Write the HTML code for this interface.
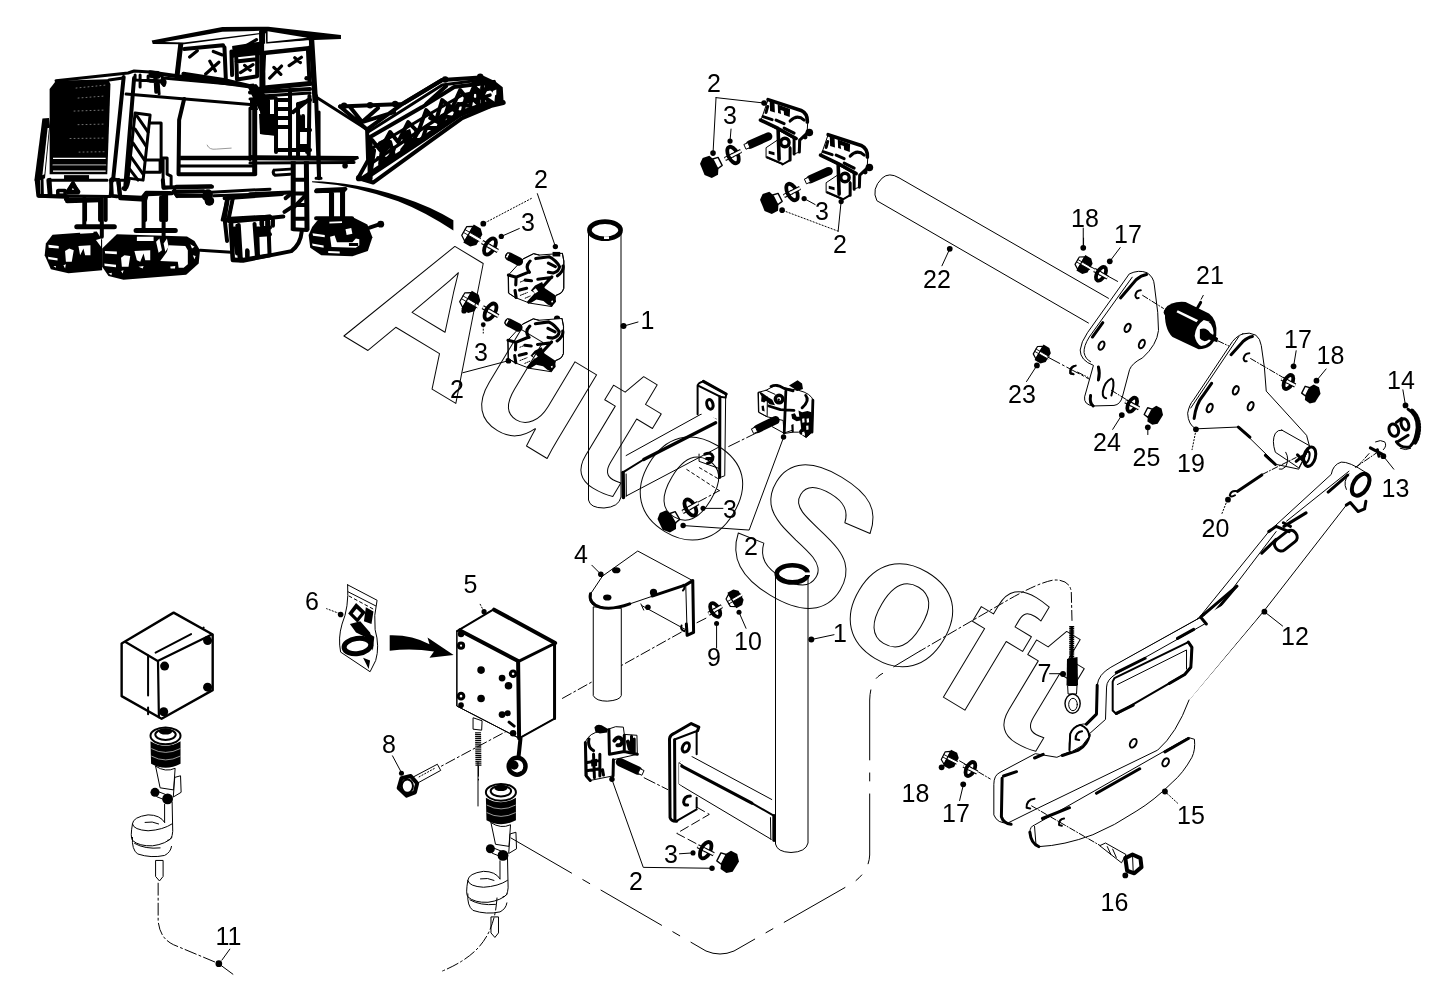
<!DOCTYPE html>
<html><head><meta charset="utf-8"><title>Parts diagram</title>
<style>
html,body{margin:0;padding:0;background:#fff;}
body{width:1437px;height:999px;overflow:hidden;}
svg{display:block;will-change:transform;}
.l{font-family:"Liberation Sans",Arial,sans-serif;font-size:25px;fill:#000;stroke:none;}
.wm{font-family:"Liberation Sans",Arial,sans-serif;font-weight:bold;font-size:193px;fill:none;stroke:#000;stroke-width:1;}
.t{fill:none;stroke:#000;stroke-width:1;}
svg *{vector-effect:non-scaling-stroke;}
.g{fill:none;stroke:#000;stroke-width:4;}
.m15{fill:none;stroke:#000;stroke-width:1.5;}
.wh{fill:#fff;stroke:#000;stroke-width:2;}
.wl{fill:none;stroke:#fff;stroke-width:1;}
.wf{fill:#fff;stroke:none;}
.m{fill:none;stroke:#000;stroke-width:2;}
.h{fill:none;stroke:#000;stroke-width:3;}
.k{fill:#000;stroke:none;}
.w{fill:#fff;stroke:#000;stroke-width:1;}
.d{fill:none;stroke:#000;stroke-width:1;stroke-dasharray:14 3 2 3;}
</style></head><body>
<svg width="1437" height="999" viewBox="0 0 1437 999" stroke-linecap="round" stroke-linejoin="round">
<rect width="1437" height="999" fill="#fff"/>
<!-- 01_defs.svg -->
<defs>
<!-- clamp type A (axis up-right). coords in 5x zoom units, anchor (470,360) -->
<g id="clampA"><g transform="translate(-470,-360)">
<path class="w" d="M380,440 L380,488 L462,522 L500,500 L500,430 L440,400 Z"/>
<path class="w" d="M355,300 L390,198 L560,255 Q590,270 588,310 L585,365 L545,400 L545,460 L520,470 L520,395 L440,350 Z"/>
<path d="M390,198 L555,252 Q588,268 586,310 M352,300 L440,342 L530,392 M440,342 L445,495" style="fill:none;stroke:#000;stroke-width:3.6"/>
<path class="k" d="M398,205 L422,213 L424,262 L400,255 Z M438,222 L500,245 L498,285 L470,275 L468,255 L452,250 L455,270 L440,265 Z"/>
<path class="h" d="M365,283 L410,298 M430,300 L470,318 M388,232 L380,262"/>
<path class="h" d="M500,305 Q535,268 570,300 M520,395 L520,470 M548,400 L546,460 M585,365 L548,400 M500,440 L500,500 M470,340 L520,365"/>
<circle cx="474" cy="412" r="21" style="fill:#fff;stroke:#000;stroke-width:3.4"/>
<path class="k" d="M393,453 L422,461 L422,476 L393,468 Z"/>
<path class="m" d="M385,485 L460,518 M500,500 L462,522"/>
<circle class="k" cx="596" cy="362" r="19"/>
<circle class="k" cx="575" cy="385" r="12"/>
</g></g>
<!-- bolt head A, anchor (115,525) -->
<g id="boltA"><g transform="translate(-115,-525)">
<path class="k" d="M78,495 L100,478 L140,486 L150,500 L160,555 L135,590 L95,580 L68,545 Z"/>
<path class="w" d="M145,492 L175,480 L185,520 L158,540 Z"/>
<path class="t" d="M160,487 L168,530"/>
</g></g>
<!-- lock washer A, anchor (215,475) -->
<g id="washA"><g transform="translate(-215,-475)">
<path class="h" d="M232,430 Q190,405 172,455 Q165,500 200,522 Q248,540 255,480 L238,475 Q232,512 208,505 Q188,490 195,455 Q205,430 225,448 Z" fill="#fff"/>
<path class="t" d="M200,425 Q180,440 178,470"/>
</g></g>
<!-- stud A, anchor (345,402) -->
<g id="studA"><g transform="translate(-345,-402)">
<path d="M300,425 L392,383" style="fill:none;stroke:#000;stroke-width:7.5" stroke-linecap="butt"/>
<path class="w" d="M278,418 L298,408 L306,432 L287,442 Z"/>
<ellipse cx="394" cy="382" rx="9" ry="19" class="k" transform="rotate(-25 394 382)"/>
</g></g>
</defs>

<!-- 10_machine_a.svg -->
<g transform="translate(30,20) scale(0.20017)">
<!-- grille -->
<polygon class="k" points="98,345 130,303 390,296 402,320 386,770 98,770"/>
<polygon class="wf" points="115,688 378,688 378,694 115,694"/>
<polygon class="wf" points="115,752 378,752 378,758 115,758"/>
<path class="wl" stroke-dasharray="1 3" opacity="0.45" d="M230,340 L380,325 M240,390 L370,380 M220,455 L370,450 M240,523 L370,520 M200,592 L370,590 M245,660 L370,658" style="stroke-width:1"/>
<path d="M115,724 L378,724" style="stroke:#999;stroke-width:1.2;fill:none"/>
<!-- left bumper -->
<polygon class="k" points="62,492 95,490 100,530 75,790 30,808 22,800"/>
<polygon class="wf" points="88,540 95,540 72,770 62,775"/>
<!-- bottom frame -->
<path class="h" d="M42,795 L45,880 L105,878 L100,795 M105,878 L400,882 L410,795 M60,795 L62,878 M100,800 L385,800"/>
<polygon class="k" points="170,775 295,775 295,800 170,800"/>
<path class="h" d="M140,850 L175,850 L175,875 L140,875 Z"/>
<path class="g" d="M190,862 L215,815 L240,862 Z" fill="#fff"/>
<path class="g" d="M185,880 L185,905 L350,900"/>
<!-- hood top & body -->
<path class="h" d="M130,303 L490,265 L520,255 L640,262 L665,290 L1110,330"/>
<path class="h" d="M480,370 L1100,422"/>
<path class="g" d="M468,285 L415,800 M410,795 L440,800 L450,880"/>
<path class="h" d="M395,300 L465,290"/>
<path class="g" d="M520,290 L475,845"/>
<path class="h" d="M525,275 L525,300 L640,305 L645,370 M550,275 L550,335 M590,280 L590,305 M625,285 L625,305"/>
<circle class="k" cx="665" cy="312" r="14"/>
<!-- hatched panel -->
<path class="h" d="M525,465 L600,475 L565,800 L490,790 Z"/>
<path class="h" d="M535,480 L590,560 M525,545 L580,630 M515,615 L572,700 M505,685 L565,770 M498,745 L540,800"/>
<path class="h" d="M600,515 L655,515 L655,700 L575,700 M570,760 L650,760 L650,700 M655,690 L685,690 L685,770 L705,780 L705,835 L665,840 L665,700"/>
<path class="h" d="M450,880 L560,885 L580,860 L700,862 M440,800 L480,800"/>
<!-- door panel -->
<path class="g" d="M770,395 L745,500 L742,770 L1120,770 L1120,440"/>
<path d="M750,690 L1120,690" style="stroke:#000;stroke-width:4.5;fill:none" stroke-linecap="butt"/>
<path class="h" d="M750,730 L1120,730"/>
<path d="M885,625 Q895,650 930,645 L1005,640" style="stroke:#999;stroke-width:1;fill:none"/>
<!-- lower rail -->
<path class="h" d="M720,850 L730,830 L905,828 M735,880 L880,878 M715,855 L735,882"/>
<circle class="k" cx="885" cy="880" r="26"/>
<circle class="k" cx="895" cy="905" r="22"/>
<path class="h" d="M905,860 L1199,845"/>
<!-- legs -->
<path class="g" d="M275,900 L275,999 M350,900 L350,999 M378,890 L378,999 M575,885 L575,999 M655,885 L655,999 M680,870 L680,999"/>
<path class="h" d="M985,890 L960,999 M1015,885 L990,999 M1000,990 L1199,980"/>
<path class="k" d="M1085,330 L1130,320 L1199,400 L1199,480 L1160,480 Z"/>
<polygon class="k" points="1150,430 1199,430 1199,575 1150,570"/>
<path class="g" d="M1125,440 L1125,770"/>
</g>

<!-- 11_machine_b.svg -->
<g transform="translate(250,20) scale(0.20017)">
<path class="g" d="M0,362 L300,345"/>
<path class="h" d="M0,395 L130,390 M60,380 L300,365"/>
<!-- ladder -->
<path class="g" d="M130,395 L130,660 M200,350 L200,690 M240,420 L240,690 M297,380 L293,690 M330,380 L345,790"/>
<path class="g" d="M130,400 L200,400 M130,445 L200,445 M130,490 L200,490 M130,535 L200,535 M130,650 L300,650"/>
<polygon class="k" points="45,470 130,470 130,580 50,570"/>
<polygon class="k" points="0,400 30,400 40,450 0,450"/>
<path class="g" d="M240,420 L300,400 M215,460 L290,400 M245,480 L245,550 L300,550 M265,480 L265,540 M250,630 L285,630 L285,660"/>
<path class="h" d="M345,460 L345,790 M330,790 L355,790 M0,440 L0,700"/>
<!-- platform -->
<polygon class="k" points="0,675 540,680 545,692 520,705 0,700"/>
<path class="h" d="M0,715 L520,712 M120,750 L200,745 M120,750 Q110,765 125,775 L200,770 M0,770 L25,770 L25,715"/>
<circle class="k" cx="475" cy="728" r="14"/>
<!-- lower -->
<path class="g" d="M0,870 L200,862 M330,855 L470,850 M410,855 L410,999 M465,855 L465,999 M330,990 L510,990"/>
<!-- strut -->
<path class="h" d="M330,385 L585,547"/>
<!-- conveyor -->
<path class="g" d="M450,432 L760,420 L960,300 L1150,287 L1199,312"/>
<path class="g" d="M585,547 L590,700 L540,790 L615,812 L900,605 L1060,490 L1199,432"/>
<path d="M600,585 L860,435 L1020,335 L1199,312" style="fill:none;stroke:#000;stroke-width:4"/>
<path d="M610,640 L880,480 L1060,375 L1199,345" style="fill:none;stroke:#000;stroke-width:3"/>
<path d="M570,790 L880,585 L1050,468 L1199,415" style="fill:none;stroke:#000;stroke-width:6"/>
<path class="g" d="M450,432 L585,547 M500,435 L560,510 L720,460 M585,547 L760,420 M560,510 L640,440"/>
<path class="g" d="M620,650 L600,780 M660,640 L650,720 L700,690 M700,610 L720,680 M760,580 L800,630 L850,540 M830,560 L820,610 M900,490 L960,520 L990,430 M1000,440 L1060,470 L1080,380 M1100,380 L1140,420 L1140,350 M1160,340 L1165,420 M770,415 L960,300 M880,420 L980,330"/>
<path class="g" d="M610,600 L650,650 L700,560 L740,610 L790,510 L840,560 L880,450 L930,500 L960,400 L1010,440 L1050,350 L1090,400 L1120,330 L1160,380 L1190,320"/>
<path class="g" d="M640,690 L700,700 L720,640 M760,650 L800,600 L860,600 L880,540 L940,540 L960,480 L1020,490 L1040,420 L1100,430 L1110,370"/>
<path d="M590,560 L780,440 L960,325 L1150,300" style="fill:none;stroke:#000;stroke-width:3"/>
<path d="M600,720 L880,530 L1050,420 L1199,375" style="fill:none;stroke:#000;stroke-width:3.5"/>
<path class="k" d="M640,610 L700,580 L700,640 L660,680 Z M755,560 L800,545 L815,600 L770,620 Z"/>
<ellipse cx="685" cy="660" rx="22" ry="35" class="g" transform="rotate(20 685 660)"/>
<path d="M600,600 L600,790" style="fill:none;stroke:#000;stroke-width:5"/>
<circle class="k" cx="470" cy="428" r="16"/><circle class="k" cx="600" cy="426" r="16"/><circle class="k" cx="725" cy="420" r="16"/><circle class="k" cx="975" cy="297" r="16"/><circle class="k" cx="1150" cy="283" r="16"/>
<circle class="k" cx="545" cy="790" r="16"/>
<!-- swoosh -->
<path class="k" d="M310,806 Q520,808 760,885 Q900,930 1016,1000 L1016,1052 Q880,960 740,905 Q520,825 310,810 Z"/>
</g>

<!-- 12_machine_c.svg -->
<g transform="translate(30,180) scale(0.16701)">
<!-- legs & plates -->
<path class="g" d="M325,110 L325,270 M430,110 L430,340 M680,100 L680,295 M800,95 L800,400"/>
<path d="M215,115 L415,115 M700,85 L850,80" style="fill:none;stroke:#000;stroke-width:4"/>
<path d="M280,280 L505,280 M635,302 L870,302" style="fill:none;stroke:#000;stroke-width:5"/>
<!-- track 1 -->
<path class="k" d="M135,328 L400,308 L432,360 L432,540 L230,558 L125,535 L88,450 L95,380 Z"/>
<path class="wf" d="M110,388 L172,395 L172,410 L112,405 Z M108,460 L165,468 L165,482 L110,475 Z M210,425 L235,410 L262,420 L250,490 L215,490 Z M290,395 L362,390 L362,450 L330,450 L320,410 L300,450 Z M200,510 L215,505 L210,530 Z M395,360 L425,350 L425,400 Z M140,515 L155,515 L155,525 Z"/>
<!-- track 2 -->
<path class="k" d="M520,325 L940,338 L985,365 L1018,420 L1010,500 L935,568 L560,598 L470,575 L432,520 L432,410 Z"/>
<path class="wf" d="M830,390 L930,395 L945,420 L945,505 L920,525 L890,525 L885,490 L780,485 L820,430 Z"/>
<path class="wf" d="M960,385 L985,400 L970,410 Z M975,450 L992,455 L985,475 Z M840,518 L870,515 L868,530 L842,530 Z"/>
<path class="wf" d="M448,425 L520,428 L520,445 L450,440 Z M445,500 L515,508 L515,522 L447,515 Z M545,465 L565,450 L600,455 L590,520 L550,520 Z M625,425 L720,420 L720,480 L690,480 L680,440 L660,490 L640,480 Z M640,340 L740,340 L740,365 L640,365 Z M755,370 L775,350 L790,420 L770,435 Z M800,380 L820,350 L830,400 L810,430 Z M545,545 L560,540 L555,560 Z M650,520 L680,515 L675,530 Z M470,560 L490,555 L488,570 Z M300,310 L380,305 L380,318 L300,322 Z"/>
<!-- frame bottom / rail -->
<path class="g" d="M40,0 L50,95 L215,100 M110,0 L118,90 M485,0 L490,95 L520,98 M530,0 L540,110 L690,118 L700,85 M560,50 Q580,60 590,0"/>
<path class="h" d="M165,65 L210,65 L210,90 L165,90 Z"/>
<path class="g" d="M225,70 L255,25 L290,70 Z" fill="#fff"/>
<path class="g" d="M795,0 L800,45 L1090,40 M870,70 L880,95 L1050,95 M870,70 L1040,68"/>
<circle class="k" cx="1065" cy="85" r="30"/><circle class="k" cx="1075" cy="125" r="28"/>
<path class="h" d="M1100,95 L1437,82 M1020,420 L1205,432"/>
<!-- rear box -->
<path class="g" d="M1185,110 L1165,230 L1180,365 M1215,105 L1190,230 M1200,240 L1437,218 M1205,250 L1215,475 L1260,480 L1437,450 M1250,270 L1262,470 M1225,290 L1240,440 M1300,420 L1300,460 M1360,290 L1365,450 M1360,290 L1437,285 M1370,330 L1437,325 M1390,235 L1390,280 M1420,232 L1420,280"/>
</g>

<!-- 13_machine_d.svg -->
<g transform="translate(220,60) scale(0.23024)">
<!-- conveyor end -->
<path class="k" d="M1130,62 L1195,92 L1228,118 L1232,185 L1190,200 L1195,150 L1130,95 Z"/>
<path class="wf" d="M1185,135 L1200,128 L1200,150 L1188,158 Z"/>
<path d="M1100,215 L1230,185" style="fill:none;stroke:#000;stroke-width:5"/>
<path class="g" d="M1100,100 L1190,95 M1140,110 L1140,200 M1100,130 L1190,190"/>
<!-- rear box -->
<path class="g" d="M20,600 L270,582 M32,600 L18,690 L45,702 L55,870 L100,872 L310,830 Q350,800 355,745 M50,702 L275,680 M75,720 L85,860 M150,712 L160,850 M210,700 L215,840 M160,745 L205,742 M120,830 L120,860 M180,690 L180,715 M230,690 L230,720"/>
<path class="g" d="M285,600 L310,580 M280,660 L310,640"/>
<!-- ladder low -->
<path d="M318,440 L318,740 M375,440 L378,740" style="fill:none;stroke:#000;stroke-width:5" stroke-linecap="butt"/>
<path class="g" d="M318,520 L375,520 M318,580 L375,580 M318,630 L375,630 M318,690 L375,690 M318,735 L378,738 M320,640 L375,585"/>
<!-- right leg -->
<path d="M420,566 L545,560" style="fill:none;stroke:#000;stroke-width:4"/>
<path class="g" d="M482,570 L482,690 M530,565 L530,690"/>
<!-- right track -->
<path class="k" d="M430,688 L575,682 L640,715 L662,770 L642,830 L575,852 L440,848 L392,815 L385,760 L400,725 Z"/>
<path class="wf" d="M402,752 L455,760 L455,770 L404,763 Z M400,797 L450,806 L450,815 L402,807 Z M478,768 L498,762 L508,792 L575,792 L590,775 L605,778 L605,805 L590,815 L484,812 Z M545,735 L570,730 L575,755 L550,760 Z M475,702 L530,700 L530,708 L475,710 Z M470,830 L520,832 L520,840 L470,838 Z"/>
<path class="k" d="M515,765 L545,765 L545,785 L515,785 Z M560,795 L600,795 L600,808 L560,808 Z"/>
<path d="M650,728 L698,712" style="fill:none;stroke:#000;stroke-width:4"/>
<circle class="k" cx="698" cy="713" r="15"/>
</g>

<!-- 14_canopy.svg -->
<g transform="translate(150,25) scale(0.13918)">
<!-- roof -->
<path class="k" d="M12,112 L520,14 L850,12 L1372,72 L1372,100 L1185,108 L835,138 L832,60 L245,138 L20,136 Z"/>
<path class="wf" d="M105,122 L520,48 L790,42 L790,58 L245,126 Z M845,45 L1130,92 L845,122 Z"/>
<!-- posts -->
<path d="M222,130 L195,360" style="fill:none;stroke:#000;stroke-width:5" stroke-linecap="butt"/>
<path d="M805,40 L808,440" style="fill:none;stroke:#000;stroke-width:6" stroke-linecap="butt"/>
<path d="M1160,100 L1188,560" style="fill:none;stroke:#000;stroke-width:5.5" stroke-linecap="butt"/>
<!-- window frames -->
<path class="g" d="M245,172 L525,145 M240,350 L530,395 L720,440 M535,160 L545,392 M585,190 L590,360"/>
<path class="k" d="M590,150 L790,120 L790,215 L595,235 Z"/>
<path class="g" d="M620,235 L625,392 L770,368 L770,215 M620,262 L770,245"/>
<path d="M815,200 L1140,165 M800,455 L1150,420" style="fill:none;stroke:#000;stroke-width:5"/>
<path class="g" d="M820,215 L805,440 M1135,180 L1145,400"/>
<path class="wf" d="M820,135 L1140,110 L1140,150 L820,185 Z"/>
<!-- splatters -->
<path d="M285,230 L340,185 M400,352 L495,268 M430,260 L470,330 M455,190 L520,215 M650,342 L740,285 M680,290 L720,325 M860,382 L945,295 M890,305 L940,355 M1000,292 L1088,232 M1040,235 L1080,270 M690,150 L765,105" style="fill:none;stroke:#000;stroke-width:3.2"/>
<circle class="k" cx="1125" cy="382" r="16"/>
<circle class="k" cx="245" cy="355" r="16"/>
<!-- lower band -->
<path class="g" d="M0,340 L70,350 L720,442 M0,365 L60,372 M40,380 L45,480 M90,390 Q115,400 100,430 M0,400 L100,405"/>
<path class="k" d="M700,425 L745,420 L840,600 L800,640 Z"/>
</g>

<!-- 20_topclamps.svg -->
<g transform="translate(690,60) scale(0.2002)">
<path class="t" d="M130,188 L370,215 M130,188 L115,465 M205,345 L200,405 M625,722 L570,692 M740,855 L755,705"/>
<path class="t" stroke-dasharray="1.2 2" d="M740,855 L460,750"/>
<use href="#clampA" transform="translate(470,360)"/>
<use href="#clampA" transform="translate(770,535)"/>
<circle class="k" cx="370" cy="215" r="14"/><circle class="k" cx="115" cy="465" r="14"/><circle class="k" cx="200" cy="405" r="13"/>
<circle class="k" cx="570" cy="692" r="13"/><circle class="k" cx="755" cy="707" r="13"/><circle class="k" cx="460" cy="750" r="14"/>
</g>
<text class="l" x="707" y="92">2</text>
<text class="l" x="723" y="124">3</text>
<text class="l" x="815" y="220">3</text>
<text class="l" x="833" y="253">2</text>

<!-- 21_tube22.svg -->
<g transform="translate(860,150) scale(0.26019)">
<path class="t" d="M955,570 L150,107 Q112,84 85,108 Q42,150 65,195 L878,665"/>
<path class="t" d="M345,380 L315,445 M858,300 L858,375 M1000,375 L960,428 M640,890 L680,828"/>
<circle class="k" cx="345" cy="380" r="11"/><circle class="k" cx="858" cy="376" r="11"/><circle class="k" cx="960" cy="428" r="11"/><circle class="k" cx="680" cy="828" r="11"/>
<path class="d" d="M880,445 L990,505 M720,795 L880,880" stroke-dasharray="6 2 1 2"/>
<path class="m" d="M825,830 Q805,835 808,858 L818,860"/>
</g>
<text class="l" x="923" y="288">22</text>
<text class="l" x="1071" y="227">18</text>
<text class="l" x="1114" y="242.5">17</text>
<text class="l" x="1008" y="402.5">23</text>

<!-- 22_plate1.svg -->
<g transform="translate(980,190) scale(0.26019)">
<!-- plate 1 -->
<path class="w" d="M575,322 Q610,305 642,318 Q668,335 670,365 L683,470 L686,540 Q680,595 625,645 Q585,665 575,690 L548,792 Q540,825 515,828 L435,830 Q398,825 402,795 L436,674 Q385,655 385,615 Q388,585 412,550 Z"/>
<path class="t" d="M585,335 L420,565 Q398,600 400,625 Q405,650 425,660"/>
<path class="h" d="M540,415 L600,345 Q620,328 640,325 M432,565 L472,510 M455,680 Q462,705 455,730 M425,790 Q420,820 435,830"/>
<path class="m" d="M618,385 Q600,385 597,405 Q600,420 610,415"/>
<ellipse class="m" cx="567" cy="530" rx="10" ry="17" transform="rotate(25 567 530)"/>
<ellipse class="m" cx="467" cy="598" rx="10" ry="17" transform="rotate(25 467 598)"/>
<ellipse class="m" cx="622" cy="592" rx="10" ry="17" transform="rotate(25 622 592)"/>
<path class="m" d="M505,725 Q480,735 472,775 Q470,800 485,800 M510,728 Q518,745 505,790"/>
<path class="m" d="M368,675 Q345,680 348,705 L360,708"/>
<path class="d" style="stroke-dasharray:6 2 1 2" d="M625,405 L705,455 M375,700 L415,720 M505,770 L570,810"/>
<!-- motor 21 -->
<path class="k" d="M712,455 Q735,425 790,430 L880,475 Q915,500 908,560 Q895,610 840,612 L740,565 Q705,530 712,455 Z"/>
<path class="wf" d="M760,462 L838,500 L832,508 L755,470 Z"/>
<path class="wf" d="M860,500 Q895,505 898,550 Q890,595 850,600 Q830,590 825,560 Q830,520 860,500 Z"/>
<path class="k" d="M845,535 Q870,525 885,550 L915,570 L912,585 L880,575 Q860,590 845,570 Z"/>
<circle class="k" cx="722" cy="470" r="16"/>
<path class="h" d="M835,455 L848,432"/>
<path class="t" d="M850,420 L858,405"/>
<path class="d" style="stroke-dasharray:6 2 1 2" d="M915,580 L1010,625"/>
<path class="t" d="M545,865 L510,920 M645,915 L645,940 M398,225 L398,185"/>
<circle class="k" cx="545" cy="865" r="11"/><circle class="k" cx="645" cy="912" r="11"/>
</g>
<text class="l" x="1196" y="284">21</text>
<text class="l" x="1093" y="451">24</text>
<text class="l" x="1132.5" y="465.5">25</text>

<!-- 23_plate2.svg -->
<g transform="translate(1140,300) scale(0.26028)">
<!-- plate 2 -->
<path class="w" d="M395,130 Q420,122 445,135 Q462,148 466,175 L478,260 L485,350 L640,520 L652,565 L610,650 L525,632 L378,488 L215,495 Q185,480 183,435 Q190,400 205,385 L345,175 Q365,140 395,130 Z"/>
<path class="t" d="M380,140 L195,415"/>
<path class="h" d="M350,210 L395,160 Q415,142 432,140 M208,455 Q215,400 240,370 L275,320 M378,488 L422,527 M482,597 L520,632"/>
<path class="m" d="M420,205 Q402,205 398,225 Q400,238 410,235"/>
<ellipse class="m" cx="368" cy="347" rx="10" ry="17" transform="rotate(25 368 347)"/>
<ellipse class="m" cx="268" cy="415" rx="10" ry="17" transform="rotate(25 268 415)"/>
<ellipse class="m" cx="425" cy="408" rx="10" ry="17" transform="rotate(25 425 408)"/>
<!-- boss -->
<path class="w" d="M545,500 L655,562 L610,645 L520,585 Q505,540 520,512 Q530,498 545,500 Z"/>
<path class="t" d="M560,585 Q575,610 560,640 Q545,655 535,650"/>
<ellipse class="h" cx="652" cy="602" rx="22" ry="38" transform="rotate(15 652 602)" fill="#fff"/>
<ellipse class="m" cx="640" cy="605" rx="10" ry="24" transform="rotate(15 640 605)"/>
<path class="h" d="M605,595 L635,625 M600,620 L625,600"/>
<!-- pin 20 -->
<path class="d" style="stroke-dasharray:6 2 1 2" d="M470,670 L600,605"/>
<path class="h" d="M375,735 L468,672"/>
<path class="m" d="M375,735 Q350,730 345,750 Q350,760 365,750"/>
<path class="t" stroke-dasharray="1.2 2" d="M335,770 L315,820 M215,500 L200,575"/>
<circle class="k" cx="338" cy="767" r="11"/><circle class="k" cx="215" cy="497" r="11"/>
<!-- washer 17, bolt 18 right -->
<path class="d" style="stroke-dasharray:6 2 1 2" d="M425,225 L545,295"/>
<path class="t" d="M600,195 L590,255 M715,265 L678,310 M1010,345 L1020,405 M975,650 L935,600"/>
<circle class="k" cx="590" cy="255" r="11"/><circle class="k" cx="678" cy="310" r="11"/><circle class="k" cx="1020" cy="405" r="11"/><circle class="k" cx="935" cy="600" r="11"/>
<!-- part 14 gear -->
<path class="h" d="M1030,420 Q1065,440 1065,490 Q1060,540 1040,560 M985,545 Q1000,570 1035,565"/>
<path class="t" d="M1000,570 Q1020,580 1040,570"/>
<path class="g" stroke-dasharray="1.5 1.5" d="M1045,425 Q1075,450 1072,500 Q1068,535 1055,550"/>
<ellipse class="h" cx="975" cy="500" rx="18" ry="24" transform="rotate(-20 975 500)"/>
<ellipse class="h" cx="1018" cy="478" rx="14" ry="22" transform="rotate(-20 1018 478)"/>
<path class="h" d="M985,470 L1005,455 M990,545 L1030,520"/>
<!-- part 13 pin -->
<path class="t" d="M905,545 Q925,535 940,545 Q950,560 935,575"/>
<path class="h" d="M885,568 L930,592 M912,575 L918,600"/>
<path class="d" style="stroke-dasharray:6 2 1 2" d="M880,590 L835,640"/>
</g>
<text class="l" x="1177" y="472">19</text>
<text class="l" x="1284" y="348">17</text>
<text class="l" x="1316.5" y="364">18</text>
<text class="l" x="1387" y="388.5">14</text>
<text class="l" x="1381.5" y="496.5">13</text>
<text class="l" x="1201.5" y="537">20</text>

<!-- 30_arm_upper.svg -->
<g transform="translate(1120,440) scale(0.26019)">
<!-- arm 12 upper -->
<path class="wf" d="M812,132 Q818,95 850,85 Q880,82 945,125 L940,265 L915,275 L885,240 L870,250 L555,655 L265,999 L0,999 L0,855 L300,688 L572,352 Z"/>
<path class="t" d="M265,999 L555,655 L870,250 M0,855 L300,688 L572,352 L812,132 Q818,95 850,85 Q880,82 945,125"/>
<path class="t" d="M880,120 L640,312 M600,352 L335,700 L0,885"/>
<path class="h" d="M800,200 L875,135 M545,435 L600,382 M630,332 L715,280 M330,702 L445,565 M220,765 L330,705 M0,890 L95,840 M302,688 L332,703"/>
<path class="h" d="M572,352 L600,332 L650,352 M628,318 L655,332"/>
<ellipse class="g" cx="925" cy="172" rx="28" ry="46" transform="rotate(32 925 172)" fill="#fff"/>
<path class="t" d="M870,190 Q855,160 880,130"/>
<path class="h" d="M870,250 L885,240 L915,275 L940,265 L945,235"/>
<rect class="h" x="590" y="362" width="95" height="50" rx="22" transform="rotate(-38 637 387)" fill="#fff"/>
<path class="m" d="M240,790 L268,775 L270,880 L240,870 Z"/>
<path class="h" d="M268,775 L270,885 L190,935 M240,870 L270,888"/>
<path class="t" d="M555,660 L625,715"/>
<circle class="k" cx="555" cy="660" r="11"/>
<path class="d" style="stroke-dasharray:6 2 1 2" d="M905,105 L1000,40"/>
</g>
<text class="l" x="1281" y="644.5">12</text>

<!-- 31_arm_lower.svg -->
<g transform="translate(920,570) scale(0.36017)">
<!-- arm 12 lower -->
<path class="wf" d="M740,155 L530,270 Q495,290 492,320 L490,400 L462,428 Q445,425 425,440 Q412,455 415,505 L380,520 L320,510 L222,562 Q205,570 205,595 L205,680 Q215,705 245,702 L330,660 L660,500 Q712,455 747,362 L936,134 L944,40 Z"/>
<path class="t" d="M790,125 L530,270 Q495,290 492,320 L490,400 L462,428 Q445,425 425,440 Q412,455 415,505 L380,520 L320,510 L222,562 Q205,570 205,595 L205,680 Q215,705 245,702 L330,660 L660,500 Q712,455 747,361"/>
<path class="t" d="M790,150 L545,288 Q518,305 518,325 L515,415 L470,455"/>
<path class="h" d="M880,45 L780,130 M780,132 L795,150 M715,190 L760,165 M545,285 L625,245 M492,320 L490,400 L462,428 M228,578 L226,685 Q232,704 253,706 M232,572 L268,560 M318,522 L342,512 M395,515 L440,500 Q465,485 470,458"/>
<!-- cutout -->
<path class="m" d="M540,300 L745,200 L755,215 L752,270 L735,290 L545,400 L535,390 L535,310 Z"/>
<path class="t" d="M548,318 L740,222 L740,275"/>
<path class="h" d="M745,200 L755,215 L752,270 L735,290 L692,315 M545,398 L592,375"/>
<!-- lug -->
<path class="w" d="M415,500 L417,455 Q425,435 445,430 Q468,438 470,462 L450,488 L420,505 Z"/>
<path class="m" d="M415,500 L417,455 Q425,435 445,430 Q468,438 470,462"/>
<path class="m" d="M450,448 Q432,450 432,470 L442,472"/>
<ellipse class="m" cx="592" cy="481" rx="8" ry="13" transform="rotate(30 592 481)"/>
<path class="m" d="M318,635 Q295,638 296,660 L306,662"/>
<!-- plate 15 -->
<path class="w" d="M305,728 Q305,712 318,708 L745,465 L762,470 Q765,500 755,520 Q730,565 700,590 Q650,640 600,670 Q540,710 480,735 Q400,765 330,768 Q308,760 305,728 Z"/>
<path class="h" d="M340,690 L415,660 M490,620 L610,552 M680,505 L745,468 M305,728 Q308,760 330,768"/>
<path class="t" d="M318,712 L322,762"/>
<ellipse class="m" cx="682" cy="534" rx="8" ry="12" transform="rotate(30 682 534)"/>
<path class="m" d="M400,690 Q385,692 386,708 L394,710"/>
<path class="d" style="stroke-dasharray:6 2 1 2" d="M310,655 L500,765"/>
<!-- bolt 16 -->
<path class="w" d="M500,765 L515,758 L572,790 L560,812 Z"/>
<path class="t" d="M520,768 L530,790 M535,775 L545,798"/>
<path class="g" d="M570,800 L590,790 L612,800 L615,825 L595,842 L575,835 Z" fill="#fff"/>
<path class="t" d="M590,790 L592,840"/>
<circle class="k" cx="570" cy="848" r="8"/>
<path class="t" stroke-dasharray="1.2 2" d="M680,615 L718,650"/>
<circle class="k" cx="680" cy="615" r="8"/>
<!-- part 7 -->
<path class="d" style="stroke-dasharray:10 3 2 3" d="M422,140 L420,60 Q415,25 370,28 Q330,35 250,80 L120,155 L0,225"/>
</g>
<g>
<path d="M1071.7,626 L1071.7,661" style="fill:none;stroke:#000;stroke-width:5" stroke-dasharray="1.5 0.6" stroke-linecap="butt"/>
<path d="M1071.7,626 L1071.7,661" style="fill:none;stroke:#000;stroke-width:2.5" stroke-linecap="butt"/>
<path class="k" d="M1067,659 L1077.5,657 L1078,685.5 L1066.5,685.5 Z"/>
<path class="w" d="M1068,685.5 L1077,685.5 L1076.5,694 L1068.5,694 Z"/>
<ellipse cx="1072.6" cy="703.6" rx="7.6" ry="9.6" style="fill:#fff;stroke:#000;stroke-width:1.4"/>
<ellipse cx="1073" cy="704.5" rx="4.3" ry="6.2" class="t"/>
<path class="t" d="M1049.6,673.7 L1062,673.7"/>
<circle class="k" cx="1063" cy="673.9" r="3"/>
</g>
<g transform="translate(920,570) scale(0.36017)">
<path class="d" style="stroke-dasharray:6 2 1 2" d="M110,530 L195,580"/>
<path class="t" d="M110,640 L120,598"/>
<circle class="k" cx="120" cy="595" r="8"/><circle class="k" cx="60" cy="548" r="8"/>
</g>
<text class="l" x="1177" y="824">15</text>
<text class="l" x="1100.5" y="910.5">16</text>
<text class="l" x="942" y="822">17</text>
<text class="l" x="901.5" y="801.5">18</text>
<text class="l" x="1037.5" y="682">7</text>

<!-- 40_tubes.svg -->
<!-- tube 1 upper -->
<path class="t" d="M588.5,232 L588.5,500 Q590,508 604,508 Q619,507 621,497 L621,232"/>
<ellipse cx="605" cy="230.2" rx="15.6" ry="8.6" style="fill:#fff;stroke:#000;stroke-width:4.6"/>
<path class="wf" d="M604,236.3 L609,236.3 L609,239 L604,239 Z"/>
<path class="t" d="M624,326 L638,322"/>
<circle class="k" cx="623.5" cy="326" r="3"/>
<text class="l" x="640.5" y="328.6">1</text>
<!-- tube 1 lower -->
<path class="t" d="M775.5,576 L775.5,844 Q777,852 791,852.5 Q806,852 808,843 L808,576"/>
<ellipse cx="792.3" cy="573.8" rx="15.6" ry="8.6" style="fill:#fff;stroke:#000;stroke-width:4.6"/>
<path class="wf" d="M805,572.4 L812,572.4 L812,575 L805,575 Z"/>
<path class="t" d="M811.5,639.5 L834,634.7"/>
<circle class="k" cx="811.3" cy="639.5" r="3"/>
<text class="l" x="833" y="642.3">1</text>

<!-- 41_bracket_up.svg -->
<g transform="translate(580,360) scale(0.18093)">
<!-- beam -->
<path class="wf" d="M690,288 L760,330 L760,480 L250,755 L232,620 L250,525 Z"/>
<path class="t" d="M690,288 L255,528 M255,752 L770,480 M690,288 L755,325"/>
<path d="M750,347 L352,550" style="fill:none;stroke:#000;stroke-width:3.2"/>
<path class="m" d="M352,550 L235,622"/>
<path d="M238,622 L240,760" style="fill:none;stroke:#000;stroke-width:3.5"/>
<path class="t" d="M255,630 L256,752"/>
<!-- plate -->
<path class="wf" d="M650,140 L680,118 L810,190 L800,640 L772,650 L772,330 L650,290 Z"/>
<path class="m" d="M650,300 L650,140 Q655,125 682,118 L808,188 L805,208 L775,203 M650,140 L775,203"/>
<path class="h" d="M773,203 L772,650 M682,118 L808,188"/>
<path class="t" d="M805,205 L800,640 L772,650"/>
<path class="t" d="M658,520 L658,560 L770,600"/>
<ellipse class="h" cx="718" cy="245" rx="17" ry="27" transform="rotate(-15 718 245)"/>
<path class="h" d="M690,520 Q725,505 735,535 Q735,565 705,570 M700,545 L725,545"/>
<!-- dash to clamp -->
<path class="d" style="stroke-dasharray:12 3 2 3" d="M822,478 L985,398 M640,792 L770,722"/>
<path class="t" stroke-dasharray="3 3" d="M590,605 L770,722 M660,595 L770,660"/>
<!-- stud -->
<!-- clamp B -->
<!-- washer + bolt (A orientation) -->
<path class="t" d="M680,820 L790,820 M1125,428 L935,940 L570,915"/>
<circle class="k" cx="680" cy="820" r="14"/><circle class="k" cx="1125" cy="426" r="15"/><circle class="k" cx="570" cy="915" r="15"/>
</g>
<g transform="translate(730,370) scale(0.09009)">
<path class="w" d="M315,248 L400,225 L520,160 L600,200 L760,225 Q900,260 925,340 L912,690 L845,750 L760,690 L700,690 L600,705 L590,560 L415,520 L320,470 Z"/>
<path class="t" d="M315,248 L320,470 L412,520 L415,300 M400,225 L500,270 M470,630 L597,700 L690,670"/>
<path class="k" d="M318,238 L350,250 L420,300 L470,330 L500,390 L440,380 L400,340 L380,360 L345,350 L350,290 Z M350,400 L375,395 L385,460 L355,450 Z"/>
<circle cx="545" cy="322" r="42" style="fill:#fff;stroke:#000;stroke-width:3.4"/><circle class="k" cx="540" cy="330" r="14"/>
<path d="M455,182 Q520,150 600,205 L700,232 M620,230 L602,700 M430,400 L560,440 L710,448 M840,282 Q890,340 800,420 M920,335 L910,690" style="fill:none;stroke:#000;stroke-width:2.8"/>
<path class="k" d="M655,172 L750,115 L800,150 L810,212 L745,232 L700,200 Z"/>
<path class="k" d="M760,450 L800,470 L860,455 L905,470 L910,690 L850,750 L830,745 L830,700 L780,715 L765,680 L790,650 L780,560 L740,570 L690,540 L680,490 L720,480 L740,520 L770,520 Z"/>
<path class="wf" d="M800,540 L825,535 L828,580 L803,585 Z M850,540 L875,535 L878,580 L853,585 Z M845,620 L870,615 L872,660 L848,665 Z M800,690 L825,682 L828,720 L805,725 Z"/>
<path class="k" d="M680,610 L705,600 L708,690 L685,695 Z"/>
</g>
<text class="l" x="723" y="517.5">3</text>
<text class="l" x="744" y="554.7">2</text>

<!-- 42_bracket_low.svg -->
<g transform="translate(570,700) scale(0.18093)">
<!-- beam -->
<path class="wf" d="M660,305 L1115,550 L1130,640 L1130,775 L1110,772 L600,465 L600,345 Z"/>
<path class="t" d="M660,305 L1115,550 M600,345 L660,305 M600,345 L600,465 L1112,770 M600,345 L625,362"/>
<path d="M618,365 L1005,570" style="fill:none;stroke:#000;stroke-width:3.2"/>
<path class="m" d="M1005,570 L1128,640"/>
<path d="M1128,640 L1128,775" style="fill:none;stroke:#000;stroke-width:3.5"/>
<path class="t" d="M1108,650 L1110,770"/>
<!-- plate -->
<path class="wf" d="M548,215 L560,190 L670,130 L712,150 L700,300 L600,345 L600,465 L700,540 L700,600 L590,670 L552,650 Z"/>
<path class="h" d="M550,215 L553,650 Q560,672 590,670 M578,220 L580,665 M550,215 Q552,195 575,185 L670,130 L712,150 L705,170"/>
<path class="m" d="M578,218 L705,170 M700,170 L700,300 M700,540 L700,595 M595,665 L700,605"/>
<ellipse class="h" cx="640" cy="262" rx="18" ry="27" transform="rotate(25 640 262)"/>
<path class="h" d="M665,530 Q630,530 628,565 Q632,585 650,580"/>
<!-- dashed -->
<path class="d" style="stroke-dasharray:12 3 2 3" d="M410,430 L540,495"/>
<path class="t" stroke-dasharray="9 4" d="M700,592 L770,632 L590,737 L700,795"/>
<!-- stud B -->
<!-- clamp C (left-facing) -->
<path class="w" d="M85,230 Q110,180 165,175 L215,160 Q250,140 295,150 L300,190 L370,195 L372,300 L240,330 L235,420 L110,445 L85,420 Z"/>
<path class="h" d="M85,235 L90,420 L112,445 M105,215 Q95,260 130,280 M215,165 L218,300 M218,300 L300,285 L372,300 M240,330 L238,420 M300,195 L300,285 M340,200 L340,290 M355,215 L355,295 M165,300 L165,420 M130,300 L135,430 M95,345 L160,335 M100,390 L165,380 M180,385 L185,415"/>
<path class="g" d="M245,225 Q270,190 290,225 Q285,255 262,250 M320,230 L330,270"/>
<path class="k" d="M135,150 Q150,130 175,140 L210,160 L205,180 L165,185 L140,175 Z"/>
<path class="k" d="M115,330 L150,325 L150,365 L118,368 Z"/>
<!-- leaders -->
<path class="t" d="M232,440 L405,925 L785,930 M605,850 L680,845"/>
<circle class="k" cx="232" cy="438" r="15"/><circle class="k" cx="785" cy="930" r="15"/><circle class="k" cx="680" cy="845" r="14"/>
</g>
<text class="l" x="664" y="863">3</text>
<text class="l" x="629" y="889.8">2</text>

<!-- 43_leftclamps.svg -->
<g transform="translate(440,160) scale(0.24038)">
<defs>
<g id="clampD">
<path class="w" d="M285,485 L345,455 L350,440 L400,395 L500,390 L515,400 L518,560 L480,600 L370,595 L290,560 Z"/>
<path class="t" d="M285,485 L290,560 L322,575 M345,455 L350,540 M510,392 L515,565 M400,395 L405,420"/>
<path class="h" d="M322,490 L322,575 M285,485 L322,492 L350,470 M360,440 Q345,470 385,480 Q410,440 440,410 Q480,395 490,440 Q495,475 465,470 L460,430"/>
<path class="h" d="M365,500 L420,485 L465,470 M400,500 L380,560 M420,510 L440,560 L400,575 M355,520 L345,560 M515,430 Q525,450 515,470"/>
<path class="k" d="M425,555 L470,560 L485,585 L470,605 L440,600 L420,580 Z"/>
<path class="k" d="M440,470 L470,465 L475,490 L445,495 Z"/>
<circle class="wf" cx="462" cy="583" r="6"/>
<path class="t" d="M350,575 L365,592 M365,570 L380,588"/>
</g>
<g id="nutD">
<path class="w" d="M100,300 L125,275 L150,290 L140,335 L112,335 Z"/>
<path class="h" d="M112,278 L160,292 M95,315 L120,345 L150,335 M138,285 L128,340"/>
<path class="k" d="M140,290 L162,300 L158,325 L140,335 Z"/>
</g>
<g id="washD">
<path class="h" d="M225,320 Q190,315 178,355 Q172,395 200,400 Q225,392 235,365 L222,360 Q212,385 198,380 Q188,365 198,345 Q208,330 222,338 Z" fill="#fff"/>
<path class="m" d="M235,325 Q248,340 240,360"/>
</g>
<g id="studD">
<path d="M280,398 L338,428" style="fill:none;stroke:#000;stroke-width:8" stroke-linecap="butt"/>
</g>
</defs>
<path class="t" d="M405,140 L480,360 M330,285 L255,318 M95,885 L285,835"/>
<path class="t" stroke-dasharray="1.2 2" d="M380,160 L180,265 M180,690 L180,720"/>
<circle class="k" cx="480" cy="360" r="11"/><circle class="k" cx="180" cy="265" r="12"/><circle class="k" cx="255" cy="318" r="11"/>
<circle class="k" cx="180" cy="685" r="10"/><circle class="k" cx="285" cy="835" r="12"/><circle class="k" cx="100" cy="628" r="11"/><circle class="k" cx="487" cy="660" r="13"/>
</g>
<g transform="translate(500,240) scale(0.07008)">
<defs><g id="clampE">
<path class="w" d="M120,500 L330,270 L480,195 L560,215 L890,190 L912,300 L910,690 L880,750 L800,790 L740,950 L420,900 L215,820 L125,760 Z"/>
<path class="t" d="M120,500 L125,760 L215,820 M330,270 L480,195 L560,215 M890,190 L910,300 L910,690 Q890,770 800,790"/>
<path d="M510,265 L700,238 Q800,290 850,380 Q840,450 760,470 L690,460 M690,330 L790,380 M430,300 Q350,380 420,460 M120,500 L230,530 L400,462 M230,530 L225,640 M215,720 L230,820 M280,715 L380,690 M360,572 L450,582 M540,560 L735,535 M740,525 L410,885 M900,370 Q915,440 820,510" style="fill:none;stroke:#000;stroke-width:3.1"/>
<path class="k" d="M500,650 L600,600 L640,690 L790,790 L800,880 L740,950 L680,920 L620,870 L520,850 L440,900 L400,880 L470,820 L500,760 L440,720 Z"/>
<path class="wf" d="M470,720 L510,690 L545,735 L500,765 Z M730,870 L755,865 L758,890 L735,892 Z"/>
<path class="t" stroke-dasharray="1.2 1.2" d="M290,600 L340,580 M290,790 L390,750 M360,830 L430,800"/>
</g></defs>
<use href="#clampE"/><use href="#clampE" transform="translate(-5,930)"/>
<path class="k" d="M750,170 L860,170 L860,235 L750,235 Z"/>
</g>
<text class="l" x="534" y="187.6">2</text>
<text class="l" x="521" y="231">3</text>
<text class="l" x="474" y="361.4">3</text>
<text class="l" x="450" y="398">2</text>

<!-- 50_box5.svg -->
<g transform="translate(430,580) scale(0.20024)">
<path class="d" style="stroke-dasharray:10 3 2 3" d="M0,960 L420,735 M242,930 L242,999"/>
<path class="w" d="M135,255 L320,145 L625,315 L625,690 L445,790 L135,630 Z"/>
<path class="t" d="M135,255 L135,630 L445,790"/>
<path d="M150,252 L440,405 L445,790 M320,148 L625,315" style="fill:none;stroke:#000;stroke-width:4"/>
<path d="M440,408 L612,322 M622,318 L622,692" style="fill:none;stroke:#000;stroke-width:3"/>
<path class="m" d="M447,790 L622,692 M135,255 L320,145"/>
<circle class="k" cx="255" cy="450" r="19"/><circle class="k" cx="255" cy="592" r="19"/>
<circle class="k" cx="360" cy="490" r="17"/><circle class="k" cx="392" cy="528" r="19"/>
<circle class="k" cx="360" cy="672" r="17"/><circle class="k" cx="388" cy="665" r="15"/>
<circle class="h" cx="155" cy="328" r="13"/><circle class="h" cx="155" cy="580" r="14"/><circle class="k" cx="155" cy="625" r="14"/>
<circle class="h" cx="415" cy="468" r="14"/><circle class="k" cx="155" cy="270" r="16"/>
<circle class="k" cx="415" cy="765" r="16"/><path class="h" d="M395,710 L420,730"/>
<!-- gland -->
<path class="w" d="M215,690 L215,745 L258,750 L260,705 Z"/>
<path d="M240,760 L242,930" style="fill:none;stroke:#000;stroke-width:6" stroke-dasharray="1.2 0.7" stroke-linecap="butt"/>
<!-- wheel -->
<path class="g" d="M452,790 L442,885"/>
<circle cx="435" cy="930" r="42" style="fill:#fff;stroke:#000;stroke-width:4.5"/>
<circle class="k" cx="420" cy="925" r="22"/>
<path class="wf" d="M440,945 Q460,940 462,915 Q470,935 455,955 Z"/>
<!-- label leader -->
<path class="t" stroke-dasharray="1.2 2" d="M268,155 L250,120"/>
<circle class="k" cx="270" cy="158" r="13"/>
</g>
<text class="l" x="463.5" y="593.3">5</text>

<!-- 51_bag_arrow.svg -->
<g transform="translate(300,540) scale(0.2803)">
<!-- bag 6 -->
<path class="w" d="M170,160 L275,215 Q262,270 268,320 Q285,380 270,430 L250,470 L145,400 Q135,350 150,300 Q175,240 170,160 Z"/>
<path class="t" d="M172,185 L270,235"/>
<path class="t" stroke-dasharray="3 3" d="M175,200 L268,250"/>
<path class="k" d="M200,225 L235,258 L205,295 L172,262 Z"/>
<path class="wf" d="M202,245 L218,260 L204,278 L188,262 Z"/>
<path class="k" d="M235,240 L262,255 L255,300 L228,290 Z M178,300 L215,290 L250,330 L262,380 L240,350 L200,330 Z"/>
<ellipse cx="205" cy="378" rx="48" ry="27" style="fill:#fff;stroke:#000;stroke-width:5" transform="rotate(-8 205 378)"/>
<path class="k" d="M225,420 L250,430 L245,460 Z M240,330 L265,345 L260,395 Z"/>
<path class="t" stroke-dasharray="1.2 2" d="M140,262 L95,245"/>
<circle class="k" cx="145" cy="266" r="10"/>
<!-- arrow -->
<path class="k" d="M320,340 Q400,338 462,372 L455,348 L548,410 L462,420 L478,398 Q400,385 320,395 Z"/>
<!-- bolt 8 -->
<path class="w" d="M405,845 L490,800 L502,822 L418,868 Z"/>
<path class="t" stroke-dasharray="1.2 2" d="M425,845 L485,812"/>
<path class="g" d="M362,850 L395,842 L418,868 L410,900 L380,912 L352,885 Z" fill="#fff"/>
<ellipse class="m" cx="383" cy="878" rx="20" ry="24"/>
<path class="t" d="M330,770 L362,830"/>
<circle class="k" cx="362" cy="832" r="9"/>
</g>
<text class="l" x="305" y="610">6</text>
<text class="l" x="382" y="753">8</text>

<!-- 52_bracket4.svg -->
<g transform="translate(540,540) scale(0.2803)">
<path class="d" style="stroke-dasharray:10 3 2 3" d="M80,565 L520,320 M560,295 L600,275"/>
<!-- tube -->
<path class="w" d="M190,240 L190,555 Q200,575 240,575 Q285,572 290,555 L290,245 Z"/>
<!-- top plate -->
<path class="w" d="M350,40 L545,145 L548,330 L525,340 L520,160 L300,235 Q230,255 190,232 Q170,215 182,190 L222,130 Z"/>
<path class="h" d="M180,192 Q172,225 215,240 Q260,250 320,228 M520,160 L545,145 L548,330 L525,340 L522,300 M400,200 L520,160"/>
<path class="t" d="M365,235 L520,320 M360,228 L370,250"/>
<ellipse class="k" cx="272" cy="108" rx="15" ry="11"/><ellipse class="k" cx="240" cy="205" rx="15" ry="11"/>
<circle class="k" cx="405" cy="187" r="13"/><circle class="k" cx="385" cy="240" r="10"/>
<path class="m" d="M505,305 Q500,320 515,325 M510,180 Q520,170 512,160"/>
<path class="t" d="M185,90 L215,120"/>
<circle class="k" cx="217" cy="122" r="10"/>
<path class="t" d="M630,300 L630,385 M710,258 L735,315"/>
<circle class="k" cx="630" cy="298" r="9"/><circle class="k" cx="710" cy="258" r="9"/>
</g>
<text class="l" x="574" y="562.5">4</text>
<text class="l" x="707" y="666">9</text>
<text class="l" x="734" y="650">10</text>

<!-- 53_box11.svg -->
<g transform="translate(100,600) scale(0.3005)">
<path class="w" d="M245,42 L375,115 L375,300 L205,395 L72,320 L72,145 Z" style="stroke-width:2.4"/>
<path class="g" style="stroke-width:2.2" d="M85,140 L192,203 L372,115 M193,205 L196,390"/>
<path class="m" stroke-dasharray="40 12" d="M160,185 L160,380"/>
<path class="m" stroke-dasharray="40 14" d="M185,175 L345,92"/>
<circle class="k" cx="215" cy="220" r="15"/><circle class="k" cx="358" cy="135" r="15"/><circle class="k" cx="358" cy="290" r="15"/><circle class="k" cx="212" cy="372" r="15"/>
<g id="conn">
<ellipse cx="218" cy="452" rx="50" ry="28" class="m" fill="#fff"/>
<ellipse cx="218" cy="448" rx="34" ry="18" class="m" fill="#fff"/>
<ellipse cx="218" cy="438" rx="22" ry="10" class="k"/>
<path class="k" d="M168,470 Q218,500 268,470 L268,545 Q218,572 170,545 Z"/>
<path class="wl" d="M172,495 Q218,520 266,495 M172,520 Q218,545 266,520" style="stroke-width:0.6"/>
<path class="w" d="M185,553 L200,625 L245,632 L250,560 Q218,575 185,553 Z"/>
<path class="w" d="M250,590 L268,585 L270,640 L245,655 Z"/>
<path class="w" d="M180,632 L225,650 L232,672 L190,655 Z"/>
<circle class="k" cx="183" cy="640" r="15"/><circle class="k" cx="225" cy="662" r="18"/>
<path class="t" d="M215,680 L215,740 M240,672 L242,770 Q240,800 225,800"/>
<path class="t" d="M215,740 Q200,715 160,715 Q110,722 108,745 Q112,765 160,768 Q210,765 240,745 M150,740 Q175,735 195,745 M108,745 Q100,790 108,800 Q130,820 175,818 Q220,812 240,790 M108,790 Q105,830 125,845 Q170,860 215,850 Q235,840 238,820 M115,810 Q150,830 200,825"/>
<path class="w" d="M185,868 L185,920 L198,935 L210,920 L210,868 Z"/>
</g>
</g>
<use href="#conn" transform="translate(500.9,792.3) scale(0.3005) translate(-218,-452)"/>
<g transform="translate(90,560) scale(0.4397)">
<path class="d" style="stroke-dasharray:12 3 2 3" d="M155,735 L155,820 Q158,860 190,875 L293,918"/>
<path class="t" d="M318,885 L300,910 M298,922 L325,942"/>
<circle class="k" cx="293" cy="918" r="7.6"/>
</g>
<text class="l" x="215.5" y="945">11</text>
<!-- long dash-dot paths -->
<path class="d" style="stroke-dasharray:12 3 2 3" d="M497,898 Q495,930 478,948 Q465,962 440,972"/>
<path class="d" style="stroke-dasharray:70 13 8 13" d="M478,762 L478,806 M511,838 L706,951 Q720,957 734,951 L852,883.5 Q869,872 869.7,855 L869.7,700 Q870,682 880,675 L920,651"/>

<!-- 60_fasteners.svg -->
<defs>
<!-- local px units, axis along +x, centred at origin -->
<g id="shaft"><path d="M0,0 L1,0" style="fill:none;stroke:#000;stroke-width:4.4" stroke-linecap="butt"/><path d="M0,0 L1,0" style="fill:none;stroke:#fff;stroke-width:2.2" stroke-linecap="butt"/></g>
<g id="fWash">
<path d="M-9,0 L0,0" style="fill:none;stroke:#000;stroke-width:4.4" stroke-linecap="butt"/><path d="M-9,0 L0,0" style="fill:none;stroke:#fff;stroke-width:2.2" stroke-linecap="butt"/>
<ellipse cx="0" cy="0" rx="4.6" ry="8.9" style="fill:none;stroke:#000;stroke-width:3.8"/>
<path d="M-1,0 L9,0" style="fill:none;stroke:#000;stroke-width:4.4" stroke-linecap="butt"/><path d="M-2,0 L9,0" style="fill:none;stroke:#fff;stroke-width:2.2" stroke-linecap="butt"/>
</g>
<g id="fNut">
<path d="M-9,-5 L-3.5,-8.5 L-3.5,8.5 L-9,5 Z" style="fill:#fff;stroke:#000;stroke-width:1.2"/>
<path class="k" d="M-4,-10.5 L4,-10.5 L8.5,-6 L8.5,-1.6 L-4,-1.6 Z M-4,1.6 L8.5,1.6 L8.5,6 L4,10.5 L-4,10.5 Z"/>
<path d="M-9,-1.6 L9,-1.6 M-9,1.6 L9,1.6" style="fill:none;stroke:#000;stroke-width:0.9"/>
</g>
<g id="fBolt">
<!-- head on -x side, collar towards +x -->
<path class="k" d="M-11,-7 L-6,-11 L1,-10 L3,-5 L3,6 L0,11 L-7,11 L-12,5 Z"/>
<path class="w" d="M2.5,-5.5 L8,-4.5 L8,4.5 L2.5,5.5 Z" style="stroke-width:1.4"/>
</g>
<g id="fStud">
<path d="M-10,0 L10,0" style="fill:none;stroke:#000;stroke-width:8.4" stroke-linecap="round"/>
<path class="w" d="M-15,-2.6 L-11,-2.6 L-11,2.6 L-15,2.6 Z"/>
</g>
</defs>
<!-- left clamps rows -->
<g transform="translate(472,235.5) rotate(30)"><use href="#fNut"/></g>
<g transform="translate(490,246.5) rotate(30)"><use href="#fWash"/></g>
<g transform="translate(514,259) rotate(28)"><use href="#fStud" transform="scale(0.55,1)"/></g>
<g transform="translate(470,301.8) rotate(30)"><use href="#fNut"/></g>
<g transform="translate(490.5,311.6) rotate(30)"><use href="#fWash"/></g>
<g transform="translate(513.5,325) rotate(28)"><use href="#fStud" transform="scale(0.55,1)"/></g>
<!-- top clamps -->
<g transform="translate(713,165) rotate(-27)"><use href="#fBolt"/></g>
<g transform="translate(733,155) rotate(-27)"><use href="#fWash"/></g>
<g transform="translate(759,140.6) rotate(-24)"><use href="#fStud"/></g>
<g transform="translate(773,201) rotate(-27)"><use href="#fBolt"/></g>
<g transform="translate(792,192) rotate(-27)"><use href="#fWash"/></g>
<g transform="translate(819.5,175.2) rotate(-24)"><use href="#fStud"/></g>
<!-- upper bracket -->
<g transform="translate(670.5,519.5) rotate(-30)"><use href="#fBolt"/></g>
<g transform="translate(690.4,507.5) rotate(-30)"><use href="#fWash"/></g>
<g transform="translate(766.4,424.6) rotate(-25.6)"><use href="#fStud"/></g>
<!-- lower bracket -->
<g transform="translate(705.7,850.2) rotate(27)"><use href="#fWash"/></g>
<g transform="translate(726,860.5) rotate(207)"><use href="#fBolt"/></g>
<g transform="translate(629,766.4) rotate(205)"><use href="#fStud"/></g>
<!-- plate fasteners -->
<g transform="translate(1083.8,264.5) rotate(30)"><use href="#fNut" transform="scale(0.85)"/></g>
<g transform="translate(1101,273.8) rotate(30)"><use href="#fWash" transform="scale(0.85)"/></g>
<g transform="translate(1042,354) rotate(30)"><use href="#fNut" transform="scale(0.85)"/></g>
<g transform="translate(1132.2,404.7) rotate(27)"><use href="#fWash" transform="scale(0.85)"/></g>
<g transform="translate(1152,414.2) rotate(207)"><use href="#fBolt" transform="scale(0.85)"/></g>
<g transform="translate(1288.4,382) rotate(27)"><use href="#fWash" transform="scale(0.85)"/></g>
<g transform="translate(1309.5,392.8) rotate(207)"><use href="#fBolt" transform="scale(0.85)"/></g>
<g transform="translate(950,759.2) rotate(27)"><use href="#fNut" transform="scale(0.85)"/></g>
<g transform="translate(970.4,769) rotate(27)"><use href="#fWash" transform="scale(0.85)"/></g>
<!-- 9 / 10 -->
<g transform="translate(715.2,610) rotate(-30)"><use href="#fWash" transform="scale(0.85)"/></g>
<g transform="translate(734.8,598.9) rotate(-30)"><use href="#fNut" transform="scale(0.85)"/></g>

<!-- 99_wm.svg -->
<text class="wm" transform="translate(342,335) rotate(31.07)"><tspan x="-2.7" style="font-size:194.8px">A</tspan><tspan x="139.1" style="font-size:184px">u</tspan><tspan x="256.2" style="font-size:184px">t</tspan><tspan x="322.1" style="font-size:184px">o</tspan><tspan x="436.1" style="font-size:194.8px">S</tspan><tspan x="567.5" style="font-size:184px">o</tspan><tspan x="684.6" style="font-size:184px">f</tspan><tspan x="750.1" style="font-size:184px">t</tspan></text>

</svg>
</body></html>
